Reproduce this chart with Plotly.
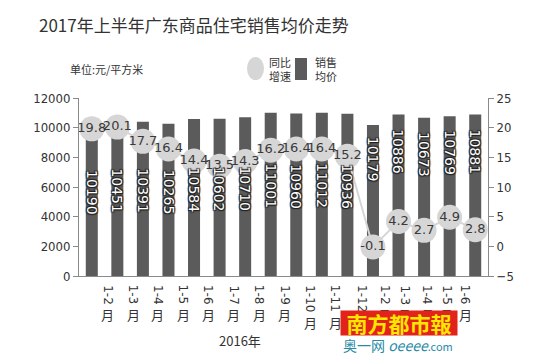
import plotly.graph_objects as go

# ---------------- data ----------------
categories = ["2016 1-2", "2016 1-3", "2016 1-4", "2016 1-5", "2016 1-6", "2016 1-7",
              "2016 1-8", "2016 1-9", "2016 1-10", "2016 1-11", "2016 1-12",
              "2017 1-2", "2017 1-3", "2017 1-4", "2017 1-5", "2017 1-6"]
tick_labels = ["1-2", "1-3", "1-4", "1-5", "1-6", "1-7", "1-8", "1-9", "1-10", "1-11",
               "1-12", "1-2", "1-3", "1-4", "1-5", "1-6"]
avg_price = [10190, 10451, 10391, 10265, 10584, 10602, 10710, 11001, 10960, 11012,
             10936, 10179, 10886, 10673, 10769, 10881]
yoy_growth = [19.8, 20.1, 17.7, 16.4, 14.4, 13.5, 14.3, 16.2, 16.4, 16.4, 15.2,
              -0.1, 4.2, 2.7, 4.9, 2.8]

# ---------------- style ----------------
BAR_COLOR = "#5b5b5b"
DOT_COLOR = "#d6d6d6"
TXT = "#333333"
AX = "#8a8a8a"
CJK = "Noto Sans CJK SC, Noto Sans, sans-serif"
NUM = "Liberation Sans Narrow, DejaVu Sans Condensed, Arial Narrow, sans-serif"
# horizontal pixel offsets of the category labels relative to their bars (as drawn in the source)
LABEL_SHIFT = [16, 16, 15, 15, 14, 14, 14, 14, 14, 14, 15, 12, 6, 3, -3, -10]

W, H = 540, 363
L, R, T, B = 79, 52, 98, 87
pw, ph = W - L - R, H - T - B


def px2paper(x, y):
    return (x - L) / pw, 1 - (y - T) / ph


fig = go.Figure()

fig.add_trace(go.Bar(
    x=categories, y=avg_price, marker_color=BAR_COLOR, marker_line_width=0,
    yaxis="y", showlegend=False, hoverinfo="x+y",
))

fig.add_trace(go.Scatter(
    x=categories, y=yoy_growth, yaxis="y2", mode="lines+markers+text",
    line=dict(color=DOT_COLOR, width=2),
    marker=dict(color=DOT_COLOR, size=25),
    text=[f"{v}" for v in yoy_growth], textposition="middle center",
    textfont=dict(family="DejaVu Sans, sans-serif", size=13, color="#3a3a3a"),
    showlegend=False,
))

annotations = []
halo = "1px 1px 1px #222, -1px -1px 1px #222, 1px -1px 1px #222, -1px 1px 1px #222"
# bar value labels (white with dark halo, rotated)
for i, (c, v) in enumerate(zip(categories, avg_price)):
    frac = 0.55 if i < 11 else 0.77
    annotations.append(dict(
        x=c, y=v * frac, xref="x", yref="y", text=str(v), textangle=90,
        showarrow=False,
        font=dict(family="DejaVu Sans, sans-serif", size=14, color="white", shadow=halo),
    ))
# category labels: rotated "1-x" plus upright "月"
for c, t, s in zip(categories, tick_labels, LABEL_SHIFT):
    annotations.append(dict(
        x=c, y=0, xref="x", yref="paper", text=t, textangle=90, showarrow=False,
        yanchor="top", yshift=-7, xshift=s,
        font=dict(family="DejaVu Sans, sans-serif", size=12, color=TXT),
    ))
    extra = 8 if len(t) > 3 else 0
    annotations.append(dict(
        x=c, y=0, xref="x", yref="paper", text="月", showarrow=False,
        yanchor="middle", yshift=-38 - extra, xshift=s,
        font=dict(family=CJK, size=13, color=TXT),
    ))

layout_ann = [
    dict(text="2017年上半年广东商品住宅销售均价走势", px=(37, 24),
         font=dict(family=CJK, size=17, color=TXT), xanchor="left"),
    dict(text="单位:元/平方米", px=(68, 69),
         font=dict(family=CJK, size=11, color=TXT), xanchor="left"),
    dict(text="同比<br>增速", px=(267, 69),
         font=dict(family=CJK, size=11, color=TXT), xanchor="left", align="left"),
    dict(text="销售<br>均价", px=(313, 69),
         font=dict(family=CJK, size=11, color=TXT), xanchor="left", align="left"),
    dict(text="2016年", px=(240, 340),
         font=dict(family=CJK, size=13, color=TXT), xanchor="center"),
    dict(text="<b>南方都市報</b>", px=(399, 323),
         font=dict(family=CJK, size=21, color="#ffe600"), xanchor="center",
         bgcolor="#e2231a", borderpad=0, width=116, height=24),
    dict(text="奥一网 <i>oeeee</i><span style='font-size:11px'>.com</span>", px=(398, 345),
         font=dict(family=CJK, size=14, color="#2a8aa6"), xanchor="center"),
]
for a in layout_ann:
    x, y = px2paper(*a.pop("px"))
    a.update(x=x, y=y, xref="paper", yref="paper", showarrow=False, yanchor="middle")
annotations += layout_ann

shapes = []
x0, y0 = px2paper(247, 57)
x1, y1 = px2paper(264, 80)
shapes.append(dict(type="circle", xref="paper", yref="paper", x0=x0, y0=y1, x1=x1, y1=y0,
                   fillcolor=DOT_COLOR, line=dict(width=0)))
x0, y0 = px2paper(295, 58)
x1, y1 = px2paper(307, 80)
shapes.append(dict(type="rect", xref="paper", yref="paper", x0=x0, y0=y1, x1=x1, y1=y0,
                   fillcolor=BAR_COLOR, line=dict(width=0)))

fig.update_layout(
    width=W, height=H,
    margin=dict(l=L, r=R, t=T, b=B, autoexpand=False),
    paper_bgcolor="white", plot_bgcolor="white",
    bargap=0.53,
    hovermode=False,
    xaxis=dict(
        type="category", showticklabels=False, automargin=False,
        showline=True, linecolor=AX, linewidth=1, ticks="", showgrid=False,
        range=[-0.5, 15.5],
    ),
    yaxis=dict(
        range=[0, 12000], dtick=2000, tickformat="d", showgrid=False, zeroline=False,
        showline=True, linecolor=AX, linewidth=1, ticks="outside", ticklen=5,
        tickcolor=AX, tickfont=dict(family=NUM, size=13, color=TXT), automargin=False,
    ),
    yaxis2=dict(
        range=[-5, 25], dtick=5, overlaying="y", side="right", showgrid=False,
        zeroline=False, showline=True, linecolor=AX, linewidth=1, ticks="outside",
        ticklen=5, tickcolor=AX, tickfont=dict(family=NUM, size=13, color=TXT),
        automargin=False,
    ),
    annotations=annotations,
    shapes=shapes,
)

fig.write_html("out.html", config={"displayModeBar": False},
               post_script="document.body.style.margin='0';document.body.style.overflow='hidden';")
